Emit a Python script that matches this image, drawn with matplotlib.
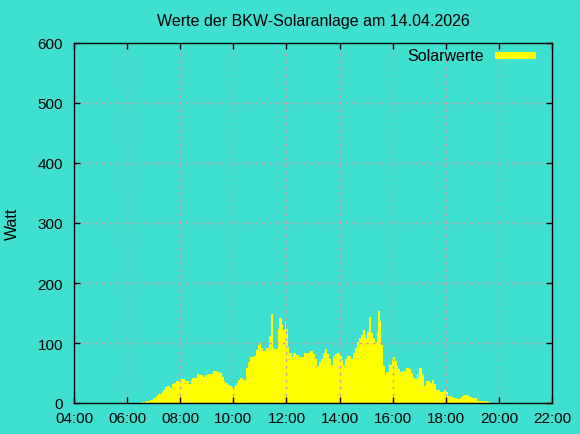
import numpy as np
import pandas as pd
import matplotlib
matplotlib.use("Agg")
import matplotlib.pyplot as plt
import matplotlib.dates as mdates
from matplotlib.patches import Rectangle

plt.rcParams['font.family'] = ['Liberation Sans', 'DejaVu Sans']

# Messzeitpunkte (Beginn jeder Stufe) und Leistung in Watt
zeiten = [
    "06:31", "06:43", "06:52", "06:59", "07:05", "07:10", "07:18", "07:22", "07:26", "07:31",
    "07:37", "07:41", "07:46", "07:50", "07:59", "08:11", "08:20", "08:24", "08:27", "08:38",
    "08:42", "08:52", "08:57", "09:01", "09:13", "09:22", "09:30", "09:34", "09:39", "09:42",
    "09:49", "09:52", "09:57", "10:04", "10:08", "10:11", "10:15", "10:22", "10:29", "10:33",
    "10:38", "10:47", "10:51", "10:56", "11:00", "11:03", "11:08", "11:14", "11:21", "11:26",
    "11:30", "11:33", "11:41", "11:44", "11:49", "11:53", "11:56", "11:59", "12:03", "12:06",
    "12:12", "12:15", "12:21", "12:29", "12:40", "12:53", "13:01", "13:05", "13:10", "13:14",
    "13:19", "13:23", "13:28", "13:32", "13:37", "13:41", "13:46", "13:50", "13:55", "14:01",
    "14:05", "14:08", "14:13", "14:16", "14:25", "14:30", "14:34", "14:39", "14:43", "14:48",
    "14:52", "14:57", "15:00", "15:03", "15:07", "15:10", "15:15", "15:19", "15:24", "15:27",
    "15:31", "15:34", "15:39", "15:42", "15:46", "15:51", "15:54", "15:58", "16:01", "16:06",
    "16:09", "16:13", "16:17", "16:24", "16:29", "16:36", "16:41", "16:45", "16:50", "16:54",
    "16:57", "17:00", "17:06", "17:11", "17:15", "17:24", "17:29", "17:33", "17:38", "17:47",
    "17:56", "18:00", "18:06", "18:11", "18:19", "18:25", "18:32", "18:37", "18:41", "18:50",
    "18:55", "18:59", "19:11", "19:28", "19:35", "19:41",
]
watt = [
    2, 3, 5, 8, 12, 15, 18, 22, 26, 28,
    25, 31, 34, 37, 40, 37, 32, 38, 42, 48,
    47, 44, 47, 48, 53, 52, 50, 44, 37, 33,
    30, 28, 27, 30, 34, 38, 42, 39, 58, 68,
    76, 79, 89, 96, 100, 91, 86, 91, 112, 148,
    94, 90, 124, 141, 130, 122, 137, 123, 94, 83,
    76, 84, 80, 77, 84, 86, 81, 74, 62, 69,
    74, 84, 90, 82, 73, 64, 78, 82, 83, 78,
    72, 64, 74, 78, 74, 84, 91, 101, 108, 114,
    122, 113, 106, 118, 143, 117, 108, 102, 118, 153,
    136, 96, 62, 47, 52, 65, 64, 74, 76, 70,
    62, 56, 52, 53, 58, 57, 50, 42, 40, 48,
    41, 59, 48, 28, 36, 33, 38, 31, 21, 19,
    21, 18, 12, 10, 8, 7, 9, 12, 14, 11,
    10, 8, 4, 3, 2, 0,
]

datum = "2026-04-14"
t = pd.to_datetime([datum + " " + z for z in zeiten])

bg = '#40e0d0'
fig = plt.figure(figsize=(5.8, 4.35), dpi=100, facecolor=bg)
ax = fig.add_axes([74/580, 1 - 404/435, 478/580, 360/435], facecolor=bg)

ax.fill_between(t, watt, step='post', color='#ffff00', linewidth=0)

ax.set_xlim(pd.Timestamp(datum + " 04:00"), pd.Timestamp(datum + " 22:00"))
ax.set_ylim(0, 600)
ax.xaxis.set_major_locator(mdates.HourLocator(byhour=range(4, 23, 2)))
ax.xaxis.set_major_formatter(mdates.DateFormatter('%H:%M'))
ax.set_yticks(range(0, 601, 100))

ax.grid(True, color='#c0a0a8', linestyle=(0, (2, 3)), linewidth=1)
ax.set_axisbelow(False)
for s in ax.spines.values():
    s.set_color('black')
    s.set_linewidth(1)
    s.set_zorder(5)
ax.tick_params(direction='in', length=4, width=1, top=True, right=True,
               labelsize=11, colors='black')
ax.tick_params(axis='x', pad=6)
ax.tick_params(axis='y', pad=8)

ax.set_title("Werte der BKW-Solaranlage am 14.04.2026", fontsize=11.5, pad=13)
fig.text(12/580, 1 - 224/435, "Watt", rotation=90, ha='center', va='center', fontsize=11.5)

# Legende wie bei gnuplot
ax.text(0.858, 0.965, "Solarwerte", transform=ax.transAxes, ha='right', va='center',
        fontsize=11.5, zorder=6)
ax.add_patch(Rectangle((0.881, 0.955), 0.086, 0.02, transform=ax.transAxes,
                       facecolor='#ffff00', edgecolor='none', zorder=6))

fig.savefig("out.png", dpi=100, facecolor=bg)
